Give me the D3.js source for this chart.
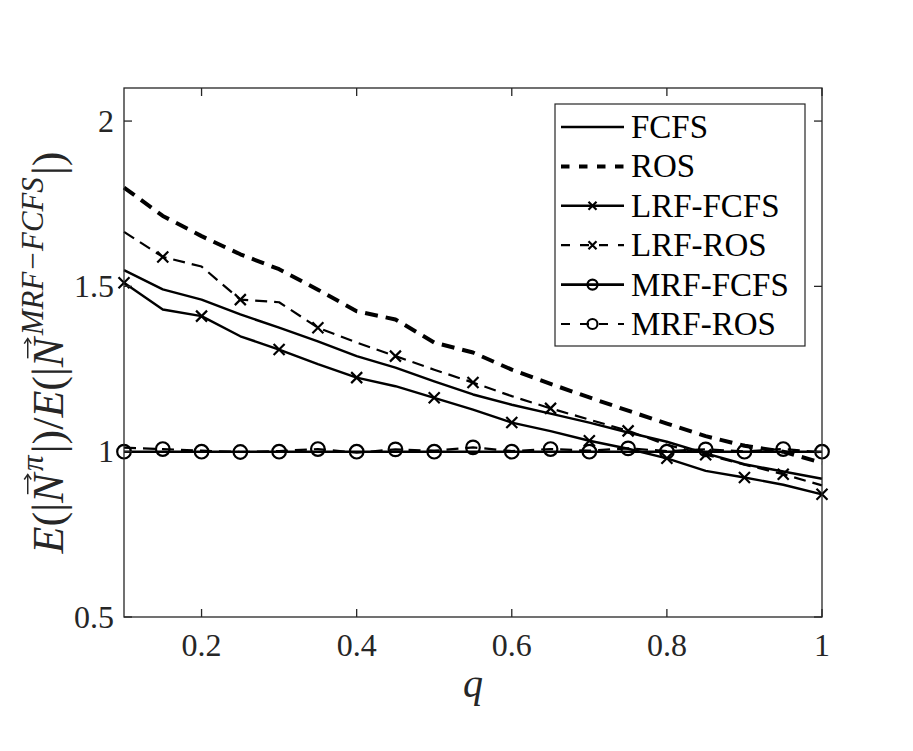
<!DOCTYPE html>
<html><head><meta charset="utf-8">
<script src="https://cdn.jsdelivr.net/npm/d3@7"></script>
<style>html,body{margin:0;padding:0;background:#fff;}</style>
</head><body>
<svg id="chart" width="913" height="751"></svg>
<script>
const q = [0.1,0.15,0.2,0.25,0.3,0.35,0.4,0.45,0.5,0.55,0.6,0.65,0.7,0.75,0.8,0.85,0.9,0.95,1.0];
const fcfs    = [1.549,1.491,1.460,1.415,1.375,1.334,1.289,1.254,1.213,1.173,1.142,1.115,1.088,1.058,1.030,0.995,0.962,0.940,0.918];
const ros     = [1.799,1.713,1.652,1.597,1.552,1.490,1.425,1.400,1.330,1.300,1.248,1.205,1.164,1.124,1.085,1.047,1.018,1.000,0.966];
const lrfFcfs = [1.511,1.430,1.410,1.349,1.309,1.265,1.224,1.198,1.163,1.127,1.088,1.062,1.033,1.009,0.980,0.942,0.922,0.900,0.871];
const lrfRos  = [1.665,1.589,1.560,1.460,1.452,1.375,1.330,1.289,1.248,1.209,1.168,1.131,1.097,1.063,1.021,0.991,0.961,0.932,0.898];
const mrfFcfs = [1.000,1.000,1.000,1.000,1.000,1.000,1.000,1.000,1.000,1.000,1.000,1.000,1.000,1.000,1.000,1.000,1.000,1.000,1.000];
const mrfRos  = [1.012,1.008,1.003,0.999,1.002,1.008,0.997,1.007,1.003,1.013,1.002,1.008,1.003,1.010,1.002,1.007,1.001,1.008,0.998];
const seriesNames = ["FCFS","ROS","LRF-FCFS","LRF-ROS","MRF-FCFS","MRF-ROS"];
const xTicks = [0.2,0.4,0.6,0.8,1];
const yTicks = [0.5,1,1.5,2];

function fontAvailable(name){
  const c=document.createElement("canvas").getContext("2d");
  const s="mmmmmmwwwwlli1.5FCFS";
  return ["monospace","sans-serif"].some(base=>{
    c.font="40px "+base; const w0=c.measureText(s).width;
    c.font="40px '"+name+"', "+base; const w1=c.measureText(s).width;
    return Math.abs(w0-w1)>0.5;
  });
}
const serifCandidates=["Liberation Serif","DejaVu Serif","Noto Serif","Times New Roman","Tinos","FreeSerif"];
const chosen = serifCandidates.find(fontAvailable);
const font = chosen ? `'${chosen}', serif` : "serif";

const svg = d3.select("#chart");
svg.append("rect").attr("width",913).attr("height",751).attr("fill","#fff");
const L=124,R=822,T=88,B=617;
const x = d3.scaleLinear().domain([0.1,1]).range([L,R]);
const y = d3.scaleLinear().domain([0.5,2.1]).range([B,T]);
const axisColor="#262626";

const series = [
  {name:seriesNames[0], v:fcfs,    dash:null,   w:2.4, marker:null},
  {name:seriesNames[1], v:ros,     dash:"13,8", w:4.0, marker:null},
  {name:seriesNames[2], v:lrfFcfs, dash:null,   w:2.4, marker:"x", phase:0},
  {name:seriesNames[3], v:lrfRos,  dash:"12,7", w:2.2, marker:"x", phase:1},
  {name:seriesNames[4], v:mrfFcfs, dash:null,   w:2.6, marker:"o", phase:0},
  {name:seriesNames[5], v:mrfRos,  dash:"12,7", w:2.2, marker:"o", phase:1}
];

const g = svg.append("g");
const line = d3.line().x((d,i)=>x(q[i])).y(d=>y(d));
function drawMarker(sel, type, cx, cy, s){
  if(type==="x"){
    sel.append("path").attr("d",`M${cx-s},${cy-s}L${cx+s},${cy+s}M${cx-s},${cy+s}L${cx+s},${cy-s}`)
      .attr("stroke","#000").attr("stroke-width",2.2).attr("fill","none");
  } else if(type==="o"){
    sel.append("circle").attr("cx",cx).attr("cy",cy).attr("r",s)
      .attr("stroke","#000").attr("stroke-width",2.2).attr("fill","none");
  }
}
series.forEach(s=>{
  g.append("path").datum(s.v).attr("d",line).attr("fill","none")
   .attr("stroke","#000").attr("stroke-width",s.w)
   .attr("stroke-dasharray",s.dash).attr("stroke-linejoin","round");
  if(s.marker){
    s.v.forEach((d,i)=>{ if(i%2===s.phase) drawMarker(g,s.marker,x(q[i]),y(d),s.marker==="x"?5.5:6.8); });
  }
});

const ax = svg.append("g");
ax.append("rect").attr("x",L).attr("y",T).attr("width",R-L).attr("height",B-T)
  .attr("fill","none").attr("stroke",axisColor).attr("stroke-width",1.3);
const tl=8;
xTicks.forEach(t=>{
  const px=x(t);
  ax.append("line").attr("x1",px).attr("x2",px).attr("y1",B).attr("y2",B-tl).attr("stroke",axisColor).attr("stroke-width",1.3);
  ax.append("line").attr("x1",px).attr("x2",px).attr("y1",T).attr("y2",T+tl).attr("stroke",axisColor).attr("stroke-width",1.3);
  ax.append("text").attr("x",px).attr("y",656).attr("text-anchor","middle")
    .style("font-family",font).attr("font-size",32).attr("fill",axisColor).text(d3.format("")(t));
});
yTicks.forEach(t=>{
  const py=y(t);
  ax.append("line").attr("x1",L).attr("x2",L+tl).attr("y1",py).attr("y2",py).attr("stroke",axisColor).attr("stroke-width",1.3);
  ax.append("line").attr("x1",R).attr("x2",R-tl).attr("y1",py).attr("y2",py).attr("stroke",axisColor).attr("stroke-width",1.3);
  ax.append("text").attr("x",114).attr("y",py+10.5).attr("text-anchor","end")
    .style("font-family",font).attr("font-size",32).attr("fill",axisColor).text(d3.format("")(t));
});

svg.append("text").attr("x",(L+R)/2).attr("y",697).attr("text-anchor","middle")
  .style("font-family",font).attr("font-style","italic").attr("font-size",40).attr("fill",axisColor).text("q");

(function(){
  const target=402;
  const pieces = [
    {t:"E",it:true},{t:"(|",it:false},{t:"N",it:true,arrow:true},{t:"π",it:true,sup:true},
    {t:"|)/",it:false},{t:"E",it:true},{t:"(|",it:false},{t:"N",it:true,arrow:true},
    {t:"MRF−FCFS",it:true,sup:true},{t:"|)",it:false}
  ];
  function build(fs){
    const lab = svg.append("g").attr("transform",`translate(63,${(T+B)/2}) rotate(-90)`);
    let cx=0; const nodes=[];
    pieces.forEach(p=>{
      const size = p.sup?fs*0.7:fs;
      const tx = lab.append("text").style("font-family",font).attr("font-size",size)
        .attr("font-style",p.it?"italic":"normal").attr("fill",axisColor)
        .attr("y",p.sup?-fs*0.45:0).text(p.t);
      const w = tx.node().getComputedTextLength();
      nodes.push({tx,x:cx,w,p});
      cx += w + (p.sup?fs*0.05:0) + (p.arrow?fs*0.06:0);
    });
    return {lab,nodes,total:cx,fs};
  }
  let b = build(40);
  const fs2 = 40*target/b.total;
  b.lab.remove();
  b = build(fs2);
  const fs=b.fs;
  b.nodes.forEach(n=>{
    const sx = n.x - b.total/2;
    n.tx.attr("x",sx);
    if(n.p.arrow){
      const a0=sx+fs*0.2, a1=sx+n.w-fs*0.02, ay=-fs*0.8;
      b.lab.append("path").attr("d",`M${a0},${ay}L${a1},${ay}`).attr("stroke",axisColor).attr("stroke-width",1.5);
      b.lab.append("path").attr("d",`M${a1-5},${ay-3.5}L${a1},${ay}L${a1-5},${ay+3.5}`).attr("stroke",axisColor).attr("stroke-width",1.5).attr("fill","none");
    }
  });
})();

const lg = svg.append("g");
lg.append("rect").attr("x",555).attr("y",104).attr("width",250).attr("height",242)
  .attr("fill","#fff").attr("stroke",axisColor).attr("stroke-width",1.2);
series.forEach((s,i)=>{
  const ry = 127 + i*39.4;
  const p = lg.append("line").attr("x1",561).attr("x2",624).attr("y1",ry).attr("y2",ry)
    .attr("stroke","#000").attr("stroke-width",s.w);
  if(s.dash) p.attr("stroke-dasharray", s.w>3?"8.5,9.5":"9,10");
  if(s.marker) drawMarker(lg,s.marker,592.5,ry,s.marker==="x"?4:5);
  lg.append("text").attr("x",631).attr("y",ry+11).style("font-family",font)
    .attr("font-size",33).attr("fill","#000").text(s.name);
});
</script>
</body></html>
